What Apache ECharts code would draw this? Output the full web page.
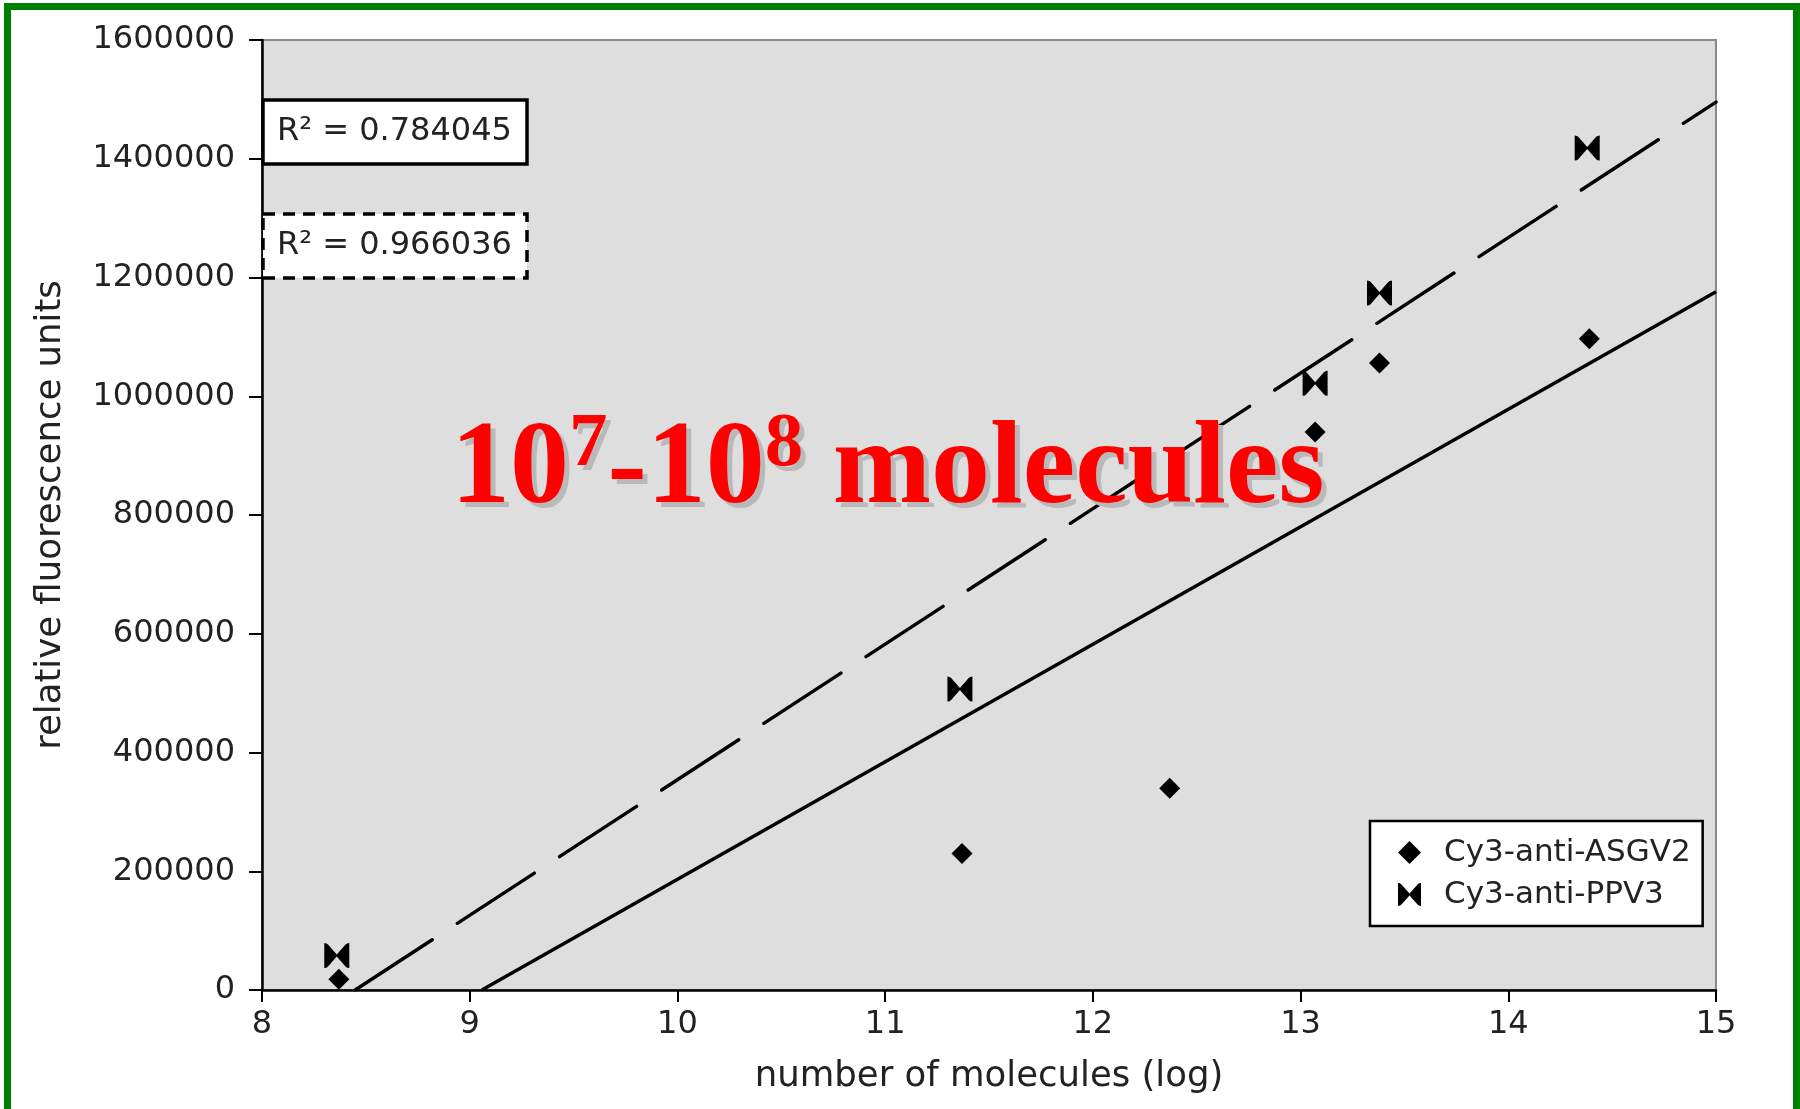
<!DOCTYPE html>
<html>
<head>
<meta charset="utf-8">
<script src="https://cdn.jsdelivr.net/npm/echarts@6/dist/echarts.min.js"></script>
<style>
  html, body { margin: 0; padding: 0; background: #ffffff; }
  #chart { width: 1800px; height: 1109px; }
</style>
</head>
<body>
<div id="chart"></div>
<script>
// ---- data ----
const seriesNames = ['Cy3-anti-ASGV2', 'Cy3-anti-PPV3'];
const xASGV2 = [8.37, 11.37, 12.37, 13.07, 13.38, 14.39];
const yASGV2 = [18000, 230000, 340000, 940000, 1056000, 1097000];
const xPPV3 = [8.36, 11.36, 13.07, 13.38, 14.38];
const yPPV3 = [58000, 507000, 1022000, 1174000, 1418000];
const rSquaredLabels = ['R\u00B2 = 0.784045', 'R\u00B2 = 0.966036'];
const xTicks = [8, 9, 10, 11, 12, 13, 14, 15];
const yTicks = [0, 200000, 400000, 600000, 800000, 1000000, 1200000, 1400000, 1600000];
const xAxisTitle = 'number of molecules (log)';
const yAxisTitle = 'relative fluorescence units';
const bannerParts = ['10', '7', '-10', '8', ' molecules'];

const FONT = 'DejaVu Sans';
const xMin = xTicks[0], xMax = xTicks[xTicks.length - 1];

function zip(xs, ys) { return xs.map((x, i) => [x, ys[i]]); }
function fit(xs, ys) {
  const n = xs.length;
  const mx = xs.reduce((a, b) => a + b, 0) / n;
  const my = ys.reduce((a, b) => a + b, 0) / n;
  let sxy = 0, sxx = 0;
  for (let i = 0; i < n; i++) { sxy += (xs[i] - mx) * (ys[i] - my); sxx += (xs[i] - mx) ** 2; }
  const slope = sxy / sxx, icpt = my - slope * mx;
  const x0 = Math.max(xMin, -icpt / slope);
  return [[x0, slope * x0 + icpt], [xMax, slope * xMax + icpt]];
}

const bowtie = 'path://M0,0 Q1,0 1.5,0.6 L5,4.6 L8.5,0.6 Q9,0 10,0 L10,10 Q9,10 8.5,9.4 L5,5.4 L1.5,9.4 Q1,10 0,10 Z';

function bannerText(fill) {
  const base = { fontFamily: 'Liberation Serif', fontWeight: 'bold', fill: fill };
  return {
    text: '{a|' + bannerParts[0] + '}{b|' + bannerParts[1] + '}{a|' + bannerParts[2] + '}{b|' +
          bannerParts[3] + '}{a|' + bannerParts[4] + '}',
    fill: fill, fontFamily: 'Liberation Serif', fontWeight: 'bold', fontSize: 118,
    rich: {
      a: Object.assign({ fontSize: 118, lineHeight: 130, verticalAlign: 'bottom' }, base),
      b: Object.assign({ fontSize: 77, lineHeight: 77, verticalAlign: 'top', padding: [6, 0, 0, 0] }, base)
    }
  };
}

const chart = echarts.init(document.getElementById('chart'), null, { renderer: 'canvas' });
chart.setOption({
  backgroundColor: '#ffffff',
  animation: false,
  grid: {
    left: 262, right: 84, top: 40, bottom: 119,
    show: true, backgroundColor: '#dedede', borderColor: '#8a8a8a', borderWidth: 2
  },
  xAxis: {
    type: 'value', min: xMin, max: xMax, interval: 1,
    name: xAxisTitle, nameLocation: 'middle', nameGap: 69,
    nameTextStyle: { fontFamily: FONT, fontSize: 35.5, color: '#222' },
    axisLine: { show: true, onZero: false, lineStyle: { color: '#000', width: 2.5 } },
    axisTick: { show: true, length: 12, lineStyle: { color: '#000', width: 2 } },
    axisLabel: { fontFamily: FONT, fontSize: 32, color: '#222', margin: 19,
      formatter: v => String(v) },
    splitLine: { show: false }
  },
  yAxis: {
    type: 'value', min: yTicks[0], max: yTicks[yTicks.length - 1], interval: 200000,
    name: yAxisTitle, nameLocation: 'middle', nameGap: 193, nameRotate: 90,
    nameTextStyle: { fontFamily: FONT, fontSize: 35.5, color: '#222' },
    axisLine: { show: true, lineStyle: { color: '#000', width: 2.5 } },
    axisTick: { show: true, length: 13, lineStyle: { color: '#000', width: 2 } },
    axisLabel: { fontFamily: FONT, fontSize: 32, color: '#222', margin: 27,
      formatter: v => String(v) },
    splitLine: { show: false }
  },
  legend: {
    orient: 'vertical', left: 1370, top: 821,
    data: seriesNames,
    backgroundColor: '#ffffff', borderColor: '#000', borderWidth: 2.5,
    padding: [16, 12, 16, 28],
    itemWidth: 23, itemHeight: 23, itemGap: 11,
    textStyle: { fontFamily: FONT, fontSize: 31, color: '#222', lineHeight: 31, padding: [0, 0, 0, 18] }
  },
  series: [
    { type: 'line', name: 'trendA', data: fit(xASGV2, yASGV2), symbol: 'none', silent: true, z: 2,
      lineStyle: { color: '#000', width: 3.4, type: 'solid' } },
    { type: 'line', name: 'trendP', data: fit(xPPV3, yPPV3), symbol: 'none', silent: true, z: 2,
      lineStyle: { color: '#000', width: 3.4, type: [92, 30], cap: 'round' } },
    { type: 'scatter', name: seriesNames[0], data: zip(xASGV2, yASGV2), symbol: 'diamond',
      symbolSize: 21, itemStyle: { color: '#000', opacity: 1 }, z: 3 },
    { type: 'scatter', name: seriesNames[1], data: zip(xPPV3, yPPV3), symbol: bowtie,
      symbolSize: 25, itemStyle: { color: '#000', opacity: 1 }, z: 3 }
  ],
  graphic: [
    { type: 'rect', z: 100, shape: { x: 7.5, y: 6.5, width: 1789, height: 1200 },
      style: { fill: 'none', stroke: '#008000', lineWidth: 7 } },
    { type: 'rect', z: 100, shape: { x: 263, y: 100, width: 264, height: 64 },
      style: { fill: '#fff', stroke: '#000', lineWidth: 3.5 } },
    { type: 'text', z: 101, x: 277, y: 132,
      style: { text: rSquaredLabels[0], fontFamily: FONT, fontSize: 32, fill: '#222', verticalAlign: 'middle' } },
    { type: 'rect', z: 100, shape: { x: 263, y: 214, width: 264, height: 64 },
      style: { fill: '#fff', stroke: '#000', lineWidth: 3.5, lineDash: [12, 8] } },
    { type: 'text', z: 101, x: 277, y: 246,
      style: { text: rSquaredLabels[1], fontFamily: FONT, fontSize: 32, fill: '#222', verticalAlign: 'middle' } },
    { type: 'text', z: 109, x: 456, y: 406, style: bannerText('#b9b9b9') },
    { type: 'text', z: 110, x: 451, y: 401, style: bannerText('#ff0000') }
  ]
});
</script>
</body>
</html>
